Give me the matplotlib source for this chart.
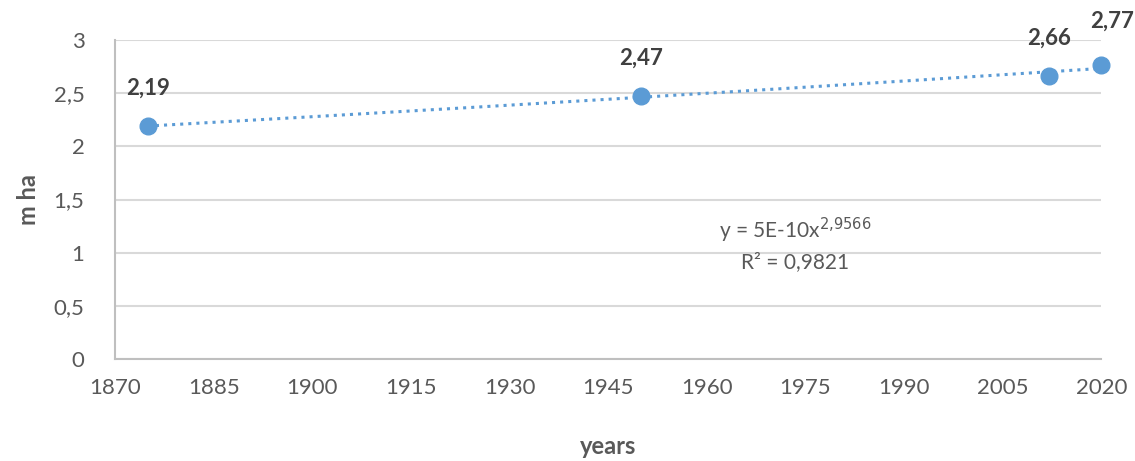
import numpy as np
import matplotlib
matplotlib.use("Agg")
import matplotlib.pyplot as plt

years = [1875, 1950, 2012, 2020]
area = [2.19, 2.47, 2.66, 2.77]
labels = ["2,19", "2,47", "2,66", "2,77"]
xticks = list(range(1870, 2021, 15))
yticks = [0, 0.5, 1, 1.5, 2, 2.5, 3]
ytick_labels = ["0", "0,5", "1", "1,5", "2", "2,5", "3"]

plt.rcParams['font.family'] = ['Lato', 'DejaVu Sans']
blue = '#5B9BD5'
grey = '#595959'

fig = plt.figure(figsize=(11.35, 4.61), dpi=100)
ax = fig.add_axes([0.1013, 0.2213, 0.8690, 0.6917])

# power trendline fitted in log-log space
b, loga = np.polyfit(np.log(years), np.log(area), 1)
xt = np.linspace(years[0], years[-1], 200)
ax.plot(xt, np.exp(loga) * xt ** b, ':', color=blue, lw=2.2, zorder=2)
ax.plot(years, area, 'o', color=blue, ms=12, zorder=3, clip_on=False)

offsets = [(0, 20), (0, 20), (0, 20), (8, 24)]
for x, y, t, (dx, dy) in zip(years, area, labels, offsets):
    ax.annotate(t, (x, y), xytext=(dx, dy), textcoords='offset points',
                ha='center', va='bottom', fontsize=16, fontweight='bold', color='#404040')

ax.text(0.69, 0.36, "y = 5E-10x$^{2{,}9566}$\nR² = 0,9821", transform=ax.transAxes,
        ha='center', va='center', fontsize=15, color=grey, linespacing=1.45)

ax.set_xlim(1870, 2020)
ax.set_ylim(0, 3)
ax.set_xticks(xticks)
ax.set_yticks(yticks)
ax.set_yticklabels(ytick_labels)
ax.tick_params(length=0, labelsize=16, colors=grey, pad=14)
ax.tick_params(axis='y', pad=22)
ax.grid(axis='y', color='#D9D9D9', lw=1.5)
ax.set_axisbelow(True)
for s in ['top', 'right']:
    ax.spines[s].set_visible(False)
for s in ['left', 'bottom']:
    ax.spines[s].set_color('#BFBFBF')
    ax.spines[s].set_linewidth(1.5)

ax.set_xlabel("years", fontsize=17, fontweight='bold', color=grey, labelpad=26)
ax.set_ylabel("m ha", fontsize=17, fontweight='bold', color=grey, labelpad=10)

fig.savefig("out.png", dpi=100)
